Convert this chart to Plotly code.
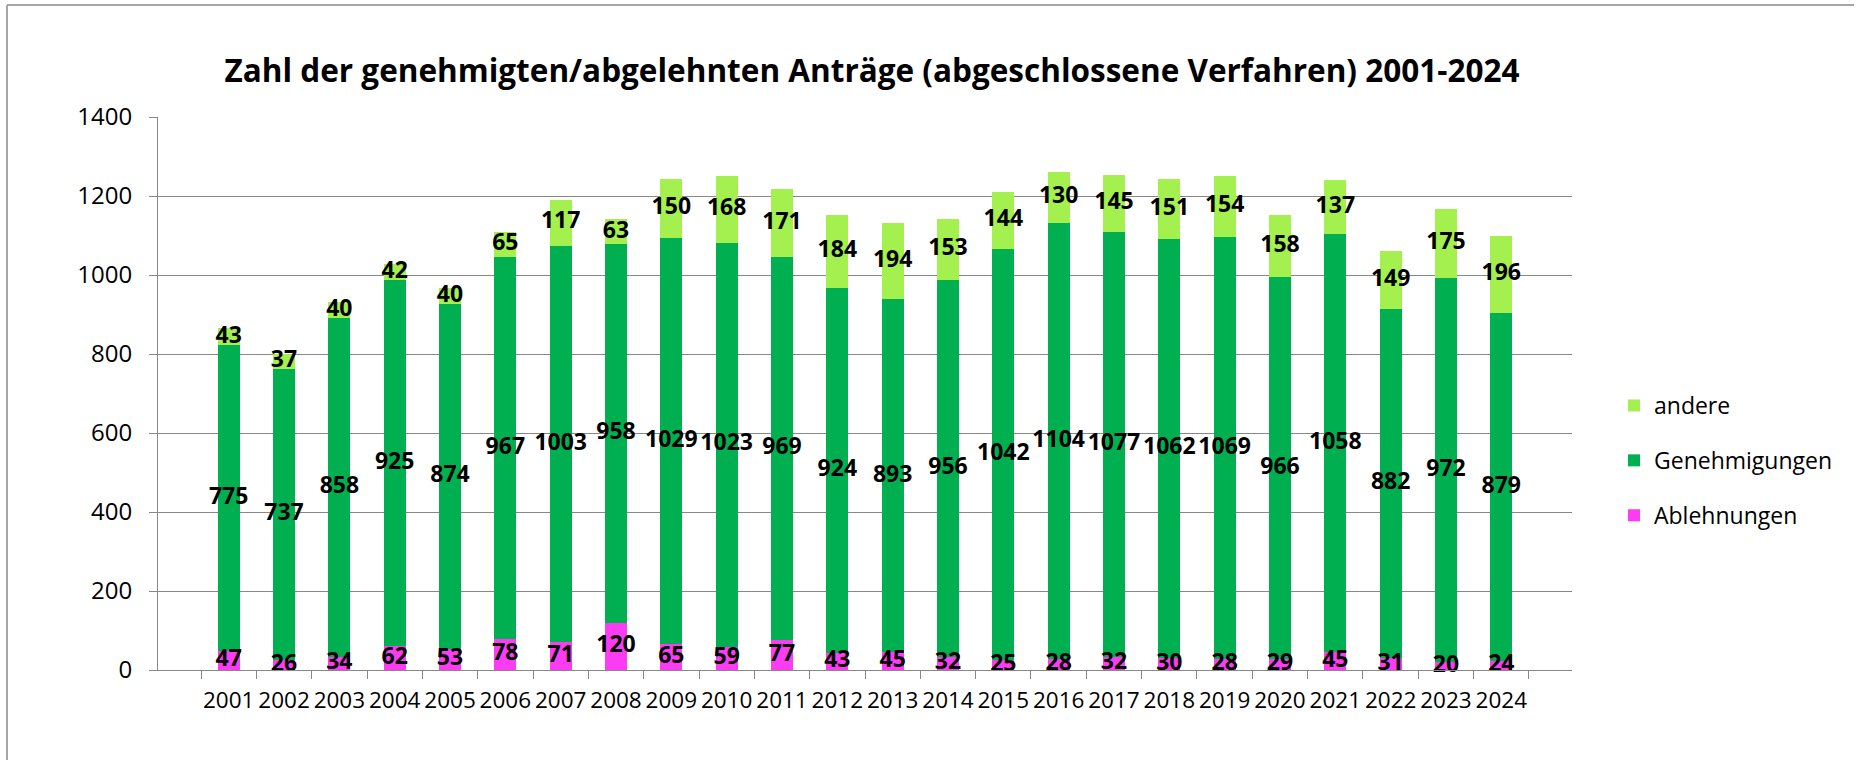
import plotly.graph_objects as go

years = [str(y) for y in range(2001, 2025)]
ablehnungen = [47, 26, 34, 62, 53, 78, 71, 120, 65, 59, 77, 43, 45, 32, 25, 28, 32, 30, 28, 29, 45, 31, 20, 24]
genehmigungen = [775, 737, 858, 925, 874, 967, 1003, 958, 1029, 1023, 969, 924, 893, 956, 1042, 1104, 1077, 1062, 1069, 966, 1058, 882, 972, 879]
andere = [43, 37, 40, 42, 40, 65, 117, 63, 150, 168, 171, 184, 194, 153, 144, 130, 145, 151, 154, 158, 137, 149, 175, 196]

title = "Zahl der genehmigten/abgelehnten Anträge (abgeschlossene Verfahren) 2001-2024"

C_AND = "#A4F04F"
C_GEN = "#00B050"
C_ABL = "#FB3CF2"
FONT = "Open Sans"

W, H = 1856, 760
L, R, T, B = 158, 284, 117, 90
pw, ph = W - L - R, H - T - B

fig = go.Figure()
series = [("Ablehnungen", ablehnungen, C_ABL, 3), ("Genehmigungen", genehmigungen, C_GEN, 2), ("andere", andere, C_AND, 1)]
for name, vals, col, rank in series:
    fig.add_trace(go.Bar(x=years, y=vals, name=name, marker=dict(color=col, line=dict(width=0)),
                         legendgroup=name, legendrank=rank, hoverinfo="skip"))

# labels centered in each segment
base = [0] * len(years)
for name, vals, col, rank in series:
    centers = [b + v / 2 for b, v in zip(base, vals)]
    fig.add_trace(go.Scatter(x=years, y=centers, mode="text", text=[str(v) for v in vals],
                             textfont=dict(family=FONT, size=23, color="black", weight="bold"),
                             showlegend=False, hoverinfo="skip", cliponaxis=False))
    base = [b + v for b, v in zip(base, vals)]

grid = "#888888"
fig.update_layout(
    width=W, height=H,
    margin=dict(l=L, r=R, t=T, b=B, autoexpand=False),
    barmode="stack", bargap=0.6,
    paper_bgcolor="white", plot_bgcolor="white",
    font=dict(family=FONT, size=23, color="black"),
    title=dict(text="<b>" + title + "</b>", x=872 / W, xanchor="center",
               y=1 - 71 / H, yanchor="middle", automargin=False,
               font=dict(family=FONT, size=31.5, color="black")),
    showlegend=True,
    legend=dict(x=(1614 - L) / pw, xanchor="left", y=(H - B - 384) / ph, yanchor="top",
                traceorder="grouped",
                font=dict(family=FONT, size=23, color="black"), tracegroupgap=22,
                bgcolor="rgba(0,0,0,0)", itemwidth=30),
    xaxis=dict(type="category", showline=True, linecolor=grid, linewidth=1, automargin=False,
               ticks="outside", ticklen=8, tickcolor=grid, tickson="boundaries", tickangle=0,
               showgrid=False, tickfont=dict(family=FONT, size=22.5), ticklabelstandoff=10),
    yaxis=dict(range=[0, 1400], dtick=200, showline=True, linecolor=grid, linewidth=1,
               automargin=False, ticklabelstandoff=12,
               ticks="outside", ticklen=8, tickcolor=grid, showgrid=True, gridcolor=grid,
               gridwidth=1, zeroline=False, tickfont=dict(family=FONT, size=24)),
)

# outer chart frame (left and top edges visible in reference)
fig.add_shape(type="line", xref="paper", yref="paper",
              x0=(7 - L) / pw, x1=(7 - L) / pw, y0=(H - B - 760) / ph, y1=(H - B - 5) / ph,
              line=dict(color="#A6A6A6", width=2))
fig.add_shape(type="line", xref="paper", yref="paper",
              x0=(7 - L) / pw, x1=(1854 - L) / pw, y0=(H - B - 5) / ph, y1=(H - B - 5) / ph,
              line=dict(color="#A6A6A6", width=2))

fig.write_html("out.html", config={"displayModeBar": False},
               post_script="document.body.style.margin='0';")
